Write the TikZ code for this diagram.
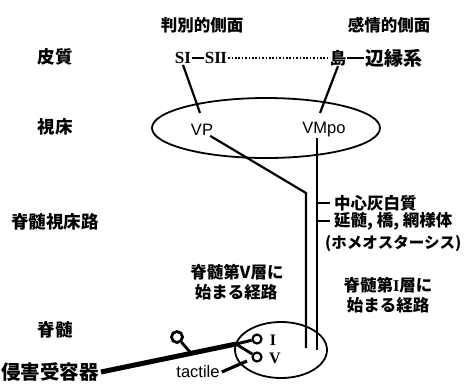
\documentclass[tikz,border=0pt]{standalone}
\usepackage{fontspec}
\setmainfont{Liberation Sans}
\newfontfamily\jp{Noto Sans CJK JP}
\newfontfamily\ser{Liberation Serif}
\usetikzlibrary{shapes.geometric}
\begin{document}
\begin{tikzpicture}[x=1pt,y=-1pt,
  jl/.style={font=\jp\bfseries\fontsize{16.5}{19}\selectfont, inner sep=0pt},
  jbig/.style={font=\jp\bfseries\fontsize{17.5}{20}\selectfont, inner sep=0pt},
  lat/.style={font=\fontsize{16.5}{19}\selectfont, inner sep=0pt},
  sr/.style={font=\ser\bfseries\fontsize{17}{19}\selectfont, inner sep=1pt},
  fib/.style={line width=2.2pt},
  oval/.style={draw, ellipse, line width=1.8pt, inner sep=0pt},
  term/.style={draw, circle, line width=2.2pt, inner sep=0pt, fill=white}
]
\useasboundingbox (0,0) rectangle (470,384);

% headings
\node[jl] (hanbetsu) at (202,25) {判別的側面};
\node[jl] (kanjo) at (389,25) {感情的側面};

% left labels
\node[jbig] (hishitsu) at (55,57) {皮質};
\node[jbig] (shisho) at (55,127) {視床};
\node[jbig] (sstract) at (55,222) {脊髄視床路};
\node[jbig] (sekizui) at (55,330) {脊髄};
\node[jl, font=\jp\bfseries\fontsize{19.5}{22}\selectfont, inner xsep=2pt] (recep) at (50,372) {侵害受容器};

% cortex row
\node[sr] (si) at (183,58) {SI};
\node[sr] (sii) at (216,58) {SI\kern-0.6ptI};
\node[jl, inner xsep=1pt] (shima) at (338,58) {島};
\node[jl, font=\jp\bfseries\fontsize{19}{21}\selectfont, inner xsep=1pt] (henen) at (394,58) {辺縁系};
\draw[line width=2pt] (si.east) -- (sii.west);
\draw[line width=2pt, dash pattern=on 1.6pt off 1.8pt] (sii.east) -- (shima.west);
\draw[line width=2pt] (shima.east) -- (henen.west);

% thalamus
\node[oval, minimum width=228pt, minimum height=60pt] (thal) at (266,128) {};
\node[lat] (vp) at (202,130) {VP};
\node[lat] (vmpo) at (324,130) {VMpo};
\coordinate (vpin) at (200,113);
\coordinate (vmin) at (320,113);
\draw[fib] (si.south) -- (vpin);
\draw[fib] (shima.south) -- (vmin);

% spinothalamic tracts
\coordinate (bend) at (306,193);
\coordinate (vend) at (306,348);
\coordinate (mend) at (317,350);
\draw[fib] ([xshift=-3pt]vp.south east) -- (bend) -- (vend);
\draw[fib] (vmpo.south -| mend) -- (mend);

% side branches
\node[jl, anchor=west, inner xsep=4pt] (cgm) at (330,203) {中心灰白質};
\node[jl, anchor=west, inner xsep=4pt] (med) at (330,221) {延髄, 橋, 網様体};
\node[jl, anchor=west, font=\jp\bfseries\fontsize{15.5}{18}\selectfont] (homeo) at (325,243) {(ホメオスターシス)};
\draw[fib] (cgm.west -| mend) -- (cgm.west);
\draw[fib] (med.west -| mend) -- (med.west);

% pathway labels
\node[jl] (l5a) at (237,272) {脊髄第V層に};
\node[jl] (l5b) at (236,292) {始まる経路};
\node[jl] (l1a) at (388,285) {脊髄第{\ser I}層に};
\node[jl] (l1b) at (388,305) {始まる経路};

% dorsal horn
\node[oval, minimum width=92pt, minimum height=56pt] (dh) at (281,350) {};
\node[sr, font=\ser\bfseries\fontsize{16}{18}\selectfont] (lI) at (273,340) {I};
\node[sr, font=\ser\bfseries\fontsize{16}{18}\selectfont] (lV) at (275,358) {V};

% fibres
\node[term, minimum size=9pt] (cI) at (257,339) {};
\node[term, minimum size=9pt] (cV) at (257,357) {};
\node[term, minimum size=11pt, line width=2.8pt] (c1) at (177,337) {};
\coordinate (j) at (236,344);
\coordinate (j3) at (190,352);
\draw[line width=5pt] (recep.east) -- (j);
\draw[line width=3pt] (j) -- (cI);
\draw[line width=2.8pt] (j) -- (cV);
\draw[line width=2.8pt] (c1) -- (j3);

\node[lat, inner xsep=2pt] (tactile) at (198,372) {tactile};
\coordinate (tend) at (247,361);
\draw[line width=3.2pt] (tactile.east) -- (tend);
\end{tikzpicture}
\end{document}
